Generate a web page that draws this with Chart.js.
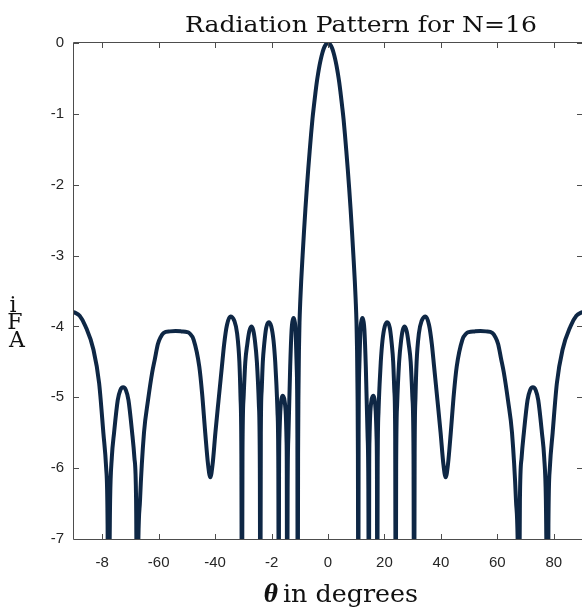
<!DOCTYPE html>
<html>
<head>
<meta charset="utf-8">
<script src="https://cdn.jsdelivr.net/npm/chart.js@4"></script>
<style>
  html, body { margin: 0; padding: 0; background: #ffffff; }
  #wrap { width: 582px; height: 608px; position: relative; overflow: hidden; }
</style>
</head>
<body>
<div id="wrap"><canvas id="c" width="582" height="608"></canvas></div>
<script>
// ---- data ----
const thetaLeft = [-90, -88, -85.9, -83.1, -81.1, -79.6, -78.6, -78.1, -77.9, -77.2, -76.6, -75.8, -74.5, -73.6, -72.6, -71.6, -70.7, -69.4, -68.6, -68.0, -67.6, -67.3, -66.6, -65.2, -63.8, -62.3, -61.3, -60.3, -59.3, -58.2, -56, -54, -52, -49.9, -49, -47.6, -45.6, -44.6, -43.5, -42.5, -41.7, -40.9, -39.9, -38.8, -37.6, -36.8, -35.8, -34.6, -33.2, -32.2, -31.4, -31.0, -30.7, -30.5, -30.3, -29.9, -29.3, -28.6, -27.9, -27.2, -26.5, -25.9, -25.2, -24.5, -24.15, -24.0, -23.8, -23.5, -23.1, -22.6, -21.9, -21.0, -20.1, -19.3, -18.7, -18.3, -17.9, -17.6, -17.45, -17.35, -17.2, -16.9, -16.5, -16.0, -15.4, -14.95, -14.7, -14.6, -14.5, -14.3, -14.0, -13.4, -12.9, -12.6, -12.2, -11.8, -11.5, -11.1, -10.85, -10.75, -10.6, -10.45, -10.3, -10.1, -9.8, -9.5, -9.0, -8.5, -8.0, -7.5, -7.0, -6.5, -6.0, -5.5, -5.0, -4.5, -4.0, -3.5, -3.0, -2.5, -2.0, -1.5, -1.0, -0.5];
const afLeft = [-3.8, -3.85, -4.0, -4.33, -4.8, -5.5, -6.0, -6.8, -9, -6.45, -5.85, -5.5, -5.04, -4.9, -4.86, -4.9, -5.04, -5.5, -5.85, -6.45, -9, -7.3, -6.45, -5.5, -5.05, -4.65, -4.45, -4.25, -4.15, -4.09, -4.07, -4.065, -4.07, -4.08, -4.1, -4.19, -4.57, -4.95, -5.5, -5.95, -6.13, -5.95, -5.5, -5.05, -4.57, -4.25, -3.98, -3.86, -3.92, -4.1, -4.5, -5.0, -5.8, -9, -5.8, -5.0, -4.5, -4.25, -4.07, -4.0, -4.05, -4.2, -4.5, -5.1, -6.0, -9, -5.5, -4.9, -4.5, -4.25, -4.02, -3.94, -4.0, -4.2, -4.5, -4.8, -5.2, -6.0, -9, -6.1, -5.55, -5.2, -5.03, -4.98, -5.05, -5.25, -5.6, -6.0, -9, -6.3, -5.5, -4.57, -4.05, -3.93, -3.88, -3.93, -4.05, -4.57, -5.5, -9, -5.8, -4.9, -4.35, -3.95, -3.62, -3.36, -3.0, -2.66, -2.34, -2.05, -1.78, -1.53, -1.29, -1.07, -0.89, -0.72, -0.56, -0.43, -0.315, -0.22, -0.14, -0.078, -0.035, -0.009];
const thetaRight = [0, 0.5, 1, 1.5, 2, 2.5, 3, 3.5, 4, 4.5, 5, 5.5, 6, 6.5, 7, 7.5, 8, 8.5, 9, 9.5, 9.8, 10.1, 10.3, 10.45, 10.6, 10.75, 10.85, 11.1, 11.5, 11.8, 12.2, 12.6, 12.9, 13.4, 14.0, 14.3, 14.5, 14.6, 14.7, 14.95, 15.4, 16.0, 16.5, 16.9, 17.2, 17.35, 17.45, 17.6, 17.9, 18.3, 18.7, 19.3, 20.1, 21.0, 21.9, 22.6, 23.1, 23.5, 23.8, 24.0, 24.15, 24.5, 25.2, 25.9, 26.5, 27.2, 27.9, 28.6, 29.3, 29.9, 30.3, 30.5, 30.7, 31.0, 31.4, 32.2, 33.2, 34.6, 35.8, 36.8, 37.6, 38.8, 39.9, 40.9, 41.7, 42.5, 43.5, 44.6, 45.6, 47.6, 49.0, 49.9, 52.0, 54.0, 56.0, 58.2, 59.3, 60.3, 61.3, 62.3, 63.8, 65.2, 66.6, 67.3, 67.6, 68.0, 68.6, 69.4, 70.7, 71.6, 72.6, 73.6, 74.5, 75.8, 76.6, 77.2, 77.9, 78.1, 78.6, 79.6, 81.1, 83.1, 85.9, 88.0, 90];
const afRight = [0, -0.009, -0.035, -0.078, -0.14, -0.22, -0.315, -0.43, -0.56, -0.72, -0.89, -1.07, -1.29, -1.53, -1.78, -2.05, -2.34, -2.66, -3.0, -3.36, -3.62, -3.95, -4.35, -4.9, -5.8, -9, -5.5, -4.57, -4.05, -3.93, -3.88, -3.93, -4.05, -4.57, -5.5, -6.3, -9, -6.0, -5.6, -5.25, -5.05, -4.98, -5.03, -5.2, -5.55, -6.1, -9, -6.0, -5.2, -4.8, -4.5, -4.2, -4.0, -3.94, -4.02, -4.25, -4.5, -4.9, -5.5, -9, -6.0, -5.1, -4.5, -4.2, -4.05, -4.0, -4.07, -4.25, -4.5, -5.0, -5.8, -9, -5.8, -5.0, -4.5, -4.1, -3.92, -3.86, -3.98, -4.25, -4.57, -5.05, -5.5, -5.95, -6.13, -5.95, -5.5, -4.95, -4.57, -4.19, -4.1, -4.08, -4.07, -4.065, -4.07, -4.09, -4.15, -4.25, -4.45, -4.65, -5.05, -5.5, -6.45, -7.3, -9, -6.45, -5.85, -5.5, -5.04, -4.9, -4.86, -4.9, -5.04, -5.5, -5.85, -6.45, -9, -6.8, -6.0, -5.5, -4.8, -4.33, -4.0, -3.85, -3.8];

const xTickValues = [-80, -60, -40, -20, 0, 20, 40, 60, 80];
const xTickLabels = ["-8", "-60", "-40", "-2", "0", "20", "40", "60", "80"];
const yTickValues = [0, -1, -2, -3, -4, -5, -6, -7];
const yTickLabels = ["0", "-1", "-2", "-3", "-4", "-5", "-6", "-7"];

const titleText = "Radiation Pattern for N=16";
const xLabelSymbol = "\u03B8";
const xLabelText = "in degrees";
const yLabelChars = ["i", "F", "A"];

// ---- build points ----
const theta = thetaLeft.concat(thetaRight);
const af = afLeft.concat(afRight);
if (theta.length !== af.length) { throw new Error("length mismatch " + theta.length + " vs " + af.length); }
const points = theta.map((t, i) => ({ x: t, y: af[i] }));

const AXIS_COLOR = "#4d4d4d";
const TEXT_COLOR = "#262626";

function fitText(ctx, text, left, baseline, targetWidth) {
  const w = ctx.measureText(text).width;
  ctx.save();
  ctx.translate(left, baseline);
  ctx.scale(targetWidth / w, 1);
  ctx.textAlign = "left";
  ctx.fillText(text, 0, 0);
  ctx.restore();
}

const framePlugin = {
  id: "framePlugin",
  afterDraw(chart) {
    const { ctx, chartArea: a, scales } = chart;
    ctx.save();
    ctx.strokeStyle = AXIS_COLOR;
    ctx.lineWidth = 1;
    ctx.beginPath();
    ctx.rect(Math.round(a.left) - 0.5, Math.round(a.top) - 0.5, Math.round(a.right - a.left) + 1, Math.round(a.bottom - a.top) + 1);
    ctx.stroke();
    const tl = 5;
    ctx.beginPath();
    xTickValues.forEach(v => {
      const px = Math.round(scales.x.getPixelForValue(v)) + 0.5;
      ctx.moveTo(px, a.bottom); ctx.lineTo(px, a.bottom - tl);
      ctx.moveTo(px, a.top); ctx.lineTo(px, a.top + tl);
    });
    yTickValues.forEach(v => {
      const py = Math.round(scales.y.getPixelForValue(v)) + 0.5;
      ctx.moveTo(a.left, py); ctx.lineTo(a.left + tl, py);
      ctx.moveTo(a.right, py); ctx.lineTo(a.right - tl, py);
    });
    ctx.stroke();

    // title
    ctx.fillStyle = "#111111";
    ctx.textBaseline = "alphabetic";
    ctx.font = '23px "DejaVu Serif"';
    fitText(ctx, titleText, 185, 32, 352);

    // x label
    ctx.font = 'italic bold 25px "DejaVu Serif"';
    fitText(ctx, xLabelSymbol, 264, 602, 14);
    ctx.font = '25px "DejaVu Serif"';
    fitText(ctx, xLabelText, 283, 602, 135);

    // y label (stacked glyphs)
    ctx.font = '22px "DejaVu Serif"';
    ctx.textAlign = "center";
    ctx.fillText(yLabelChars[0], 13, 312);
    ctx.fillText(yLabelChars[1], 15, 329);
    ctx.fillText(yLabelChars[2], 17, 347);
    ctx.restore();
  }
};

new Chart(document.getElementById("c"), {
  type: "line",
  data: {
    datasets: [{
      data: points,
      borderColor: "#0e2745",
      borderWidth: 4,
      pointRadius: 0,
      fill: false,
      cubicInterpolationMode: "monotone",
      borderJoinStyle: "round",
      borderCapStyle: "round"
    }]
  },
  options: {
    responsive: false,
    animation: false,
    events: [],
    layout: { padding: { top: 43, right: -2, left: 0, bottom: 0 } },
    plugins: { legend: { display: false }, title: { display: false }, tooltip: { enabled: false } },
    scales: {
      x: {
        type: "linear",
        min: -90, max: 90,
        grid: { display: false, drawTicks: false },
        border: { display: false },
        afterBuildTicks(scale) { scale.ticks = xTickValues.map(v => ({ value: v })); },
        afterFit(scale) { scale.height = 69; },
        ticks: {
          padding: 15,
          maxRotation: 0,
          autoSkip: false,
          color: TEXT_COLOR,
          font: { family: "Liberation Sans", size: 15 },
          callback: (v, i) => xTickLabels[i]
        }
      },
      y: {
        type: "linear",
        min: -7, max: 0,
        grid: { display: false, drawTicks: false },
        border: { display: false },
        afterBuildTicks(scale) { scale.ticks = yTickValues.map(v => ({ value: v })); },
        afterFit(scale) { scale.width = 74; },
        ticks: {
          padding: 10,
          autoSkip: false,
          color: TEXT_COLOR,
          font: { family: "Liberation Sans", size: 15 },
          callback: (v, i) => yTickLabels[i]
        }
      }
    }
  },
  plugins: [framePlugin]
});
</script>
</body>
</html>
